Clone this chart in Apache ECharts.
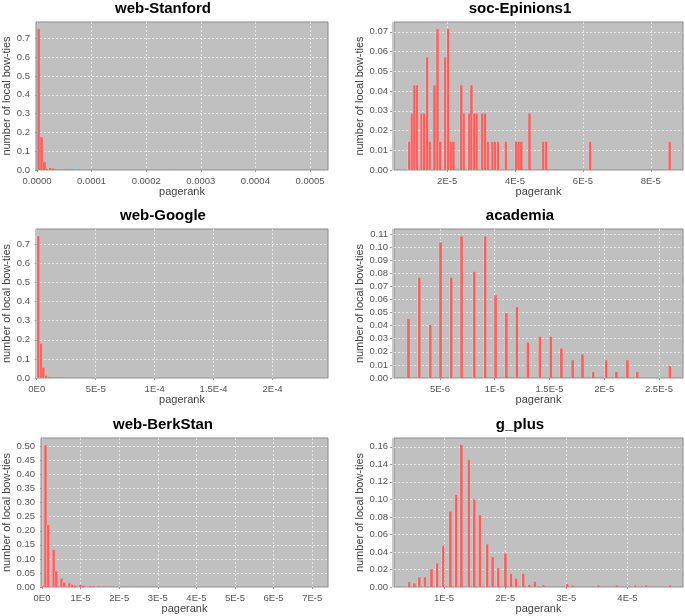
<!DOCTYPE html>
<html>
<head>
<meta charset="utf-8">
<script src="https://cdn.jsdelivr.net/npm/echarts@6/dist/echarts.min.js"></script>
<style>
  html, body { margin: 0; padding: 0; background: #fff; }
  #chart { width: 685px; height: 616px; }
</style>
</head>
<body>
<div id="chart"></div>
<script>
// histogram data: bin centre (pagerank) and share of local bow-ties

// web-Stanford
const stanfordX = [2.65e-6, 7.95e-6, 13.25e-6, 18.55e-6, 23.85e-6, 29.15e-6, 34.45e-6, 39.75e-6, 45.05e-6,
  50.35e-6, 55.65e-6, 60.95e-6, 66.25e-6, 71.55e-6, 76.85e-6, 177e-6, 241e-6, 507e-6]
const stanfordY = [0.750, 0.175, 0.042, 0.006, 0.011, 0.008, 0.003, 0.002, 0.002,
  0.004, 0.004, 0.004, 0.003, 0.002, 0.002, 0.001, 0.001, 0.001]
const stanfordBin = 5.3e-6
const stanfordXTicks = ['0.0000', '0.0001', '0.0002', '0.0003', '0.0004', '0.0005']
const stanfordYTicks = ['0.0', '0.1', '0.2', '0.3', '0.4', '0.5', '0.6', '0.7']

// soc-Epinions1
const epinionsX = [8.7e-6, 9.5e-6, 10.3e-6, 11.0e-6, 12.4e-6, 13.1e-6, 14.0e-6, 14.8e-6, 16.2e-6, 17.1e-6,
  17.9e-6, 19.4e-6, 20.2e-6, 21.0e-6, 21.8e-6, 24.1e-6, 24.8e-6, 26.4e-6, 27.1e-6, 27.8e-6,
  28.6e-6, 30.3e-6, 31.1e-6, 31.9e-6, 33.3e-6, 34.1e-6, 34.9e-6, 37.2e-6, 40.2e-6, 41.0e-6,
  41.8e-6, 44.2e-6, 48.3e-6, 49.1e-6, 62.0e-6, 85.5e-6]
const epinionsY = [0.0143, 0.0286, 0.0429, 0.0429, 0.0286, 0.0286, 0.0571, 0.0143, 0.0429, 0.0714,
  0.0143, 0.0571, 0.0714, 0.0143, 0.0143, 0.0429, 0.0286, 0.0286, 0.0429, 0.0286,
  0.0286, 0.0286, 0.0286, 0.0143, 0.0143, 0.0143, 0.0143, 0.0143, 0.0143, 0.0143,
  0.0143, 0.0286, 0.0143, 0.0143, 0.0143, 0.0143]
const epinionsBin = 0.78e-6
const epinionsXTicks = ['2E-5', '4E-5', '6E-5', '8E-5']
const epinionsYTicks = ['0.00', '0.01', '0.02', '0.03', '0.04', '0.05', '0.06', '0.07']

// web-Google
const googleX = [1.1e-6, 3.3e-6, 5.5e-6, 7.7e-6, 9.9e-6, 12.1e-6, 14.3e-6, 16.5e-6, 18.7e-6, 20.9e-6, 25.3e-6]
const googleY = [0.742, 0.180, 0.054, 0.012, 0.006, 0.003, 0.002, 0.0015, 0.001, 0.001, 0.0008]
const googleBin = 2.2e-6
const googleXTicks = ['0E0', '5E-5', '1E-4', '1.5E-4', '2E-4']
const googleYTicks = ['0.0', '0.1', '0.2', '0.3', '0.4', '0.5', '0.6', '0.7']

// academia
const academiaX = [2.1e-6, 3.08e-6, 4.09e-6, 5.03e-6, 6.0e-6, 6.95e-6, 8.1e-6, 9.1e-6, 10.06e-6, 11.04e-6,
  12.0e-6, 13.0e-6, 14.1e-6, 15.1e-6, 16.07e-6, 17.1e-6, 18.0e-6, 18.96e-6, 20.15e-6, 21.1e-6,
  22.1e-6, 23.0e-6, 25.97e-6]
const academiaY = [0.045, 0.0766, 0.0405, 0.1036, 0.0766, 0.1081, 0.0811, 0.1081, 0.0631, 0.0495,
  0.0541, 0.027, 0.0315, 0.0315, 0.0225, 0.0135, 0.018, 0.0045, 0.0135, 0.0045,
  0.0135, 0.0045, 0.009]
const academiaBin = 0.26e-6
const academiaXTicks = ['5E-6', '1E-5', '1.5E-5', '2E-5', '2.5E-5']
const academiaYTicks = ['0.00', '0.01', '0.02', '0.03', '0.04', '0.05', '0.06', '0.07', '0.08', '0.09', '0.10', '0.11']

// web-BerkStan
const berkX = [0.15e-6, 0.85e-6, 1.55e-6, 2.95e-6, 3.65e-6, 5.0e-6, 5.7e-6, 7.05e-6, 7.75e-6, 8.45e-6,
  9.9e-6, 10.6e-6, 12.4e-6, 13.1e-6, 14.5e-6, 16.0e-6, 17.5e-6, 22.0e-6, 25.0e-6, 27.6e-6]
const berkY = [0.003, 0.504, 0.220, 0.132, 0.056, 0.030, 0.0155, 0.013, 0.008, 0.005,
  0.007, 0.005, 0.0035, 0.003, 0.002, 0.0015, 0.001, 0.001, 0.001, 0.001]
const berkBin = 0.7e-6
const berkXTicks = ['0E0', '1E-5', '2E-5', '3E-5', '4E-5', '5E-5', '6E-5', '7E-5']
const berkYTicks = ['0.00', '0.05', '0.10', '0.15', '0.20', '0.25', '0.30', '0.35', '0.40', '0.45', '0.50']

// g_plus
const gplusX = [4.2e-6, 5.1e-6, 5.9e-6, 6.8e-6, 7.9e-6, 8.8e-6, 9.8e-6, 11.0e-6, 11.9e-6, 12.8e-6,
  14.0e-6, 14.9e-6, 15.8e-6, 17.0e-6, 17.9e-6, 18.8e-6, 20.0e-6, 20.9e-6, 21.7e-6, 22.9e-6,
  23.9e-6, 24.8e-6, 26.2e-6, 30.1e-6, 31.0e-6, 35.2e-6, 38.2e-6, 41.2e-6, 43.0e-6, 46.9e-6]
const gplusY = [0.0055, 0.0042, 0.011, 0.011, 0.0203, 0.027, 0.047, 0.086, 0.105, 0.162,
  0.145, 0.100, 0.082, 0.0487, 0.034, 0.0218, 0.038, 0.015, 0.0096, 0.015,
  0.0023, 0.006, 0.002, 0.0035, 0.0018, 0.0018, 0.0018, 0.0018, 0.0018, 0.0018]
const gplusBin = 0.45e-6
const gplusXTicks = ['1E-5', '2E-5', '3E-5', '4E-5']
const gplusYTicks = ['0.00', '0.02', '0.04', '0.06', '0.08', '0.10', '0.12', '0.14', '0.16']

const FONT = '"Liberation Sans", Arial, sans-serif'
// bars: red with a light strip on the left edge
const BAR_FILL = new echarts.graphic.LinearGradient(0, 0, 1, 0, [
  { offset: 0, color: '#ffc4c4' },
  { offset: 0.25, color: '#ff6464' },
  { offset: 1, color: '#ff5555' },
])

// layout of each panel (plot rectangle in px, axis ranges, gaps)
const panels = [
  { title: 'web-Stanford', tx: 163, ty: 1, grid: [33, 22, 295, 148], xr: [-1.8e-6, 5.33e-4], ymax: 0.7875,
    xs: stanfordX, ys: stanfordY, bin: stanfordBin, xt: stanfordXTicks, yt: stanfordYTicks, yGap: 22 },
  { title: 'soc-Epinions1', tx: 520, ty: 1, grid: [394, 22, 289, 148], xr: [4.34e-6, 8.95e-5], ymax: 0.075,
    xs: epinionsX, ys: epinionsY, bin: epinionsBin, xt: epinionsXTicks, yt: epinionsYTicks, yGap: 25 },
  { title: 'web-Google', tx: 163, ty: 208, grid: [33, 229, 295, 149], xr: [-0.6e-6, 2.47e-4], ymax: 0.78,
    xs: googleX, ys: googleY, bin: googleBin, xt: googleXTicks, yt: googleYTicks, yGap: 22 },
  { title: 'academia', tx: 520, ty: 208, grid: [394, 229, 289, 149], xr: [0.8e-6, 2.72e-5], ymax: 0.1138,
    xs: academiaX, ys: academiaY, bin: academiaBin, xt: academiaXTicks, yt: academiaYTicks, yGap: 25 },
  { title: 'web-BerkStan', tx: 163, ty: 417, grid: [38, 438, 290, 149], xr: [-0.26e-6, 7.41e-5], ymax: 0.53,
    xs: berkX, ys: berkY, bin: berkBin, xt: berkXTicks, yt: berkYTicks, yGap: 27 },
  { title: 'g_plus', tx: 520, ty: 417, grid: [394, 438, 289, 149], xr: [1.8e-6, 4.91e-5], ymax: 0.170,
    xs: gplusX, ys: gplusY, bin: gplusBin, xt: gplusXTicks, yt: gplusYTicks, yGap: 25 },
]

// label for a tick value: pick the listed label whose number is nearest
function labelFor(list) {
  return (v) => {
    let best = list[0]
    for (const s of list) {
      if (Math.abs(Number(s) - v) < Math.abs(Number(best) - v)) best = s
    }
    return best
  }
}

function renderBar(params, api) {
  const x = api.value(0), y = api.value(1), w = api.value(2)
  const p0 = api.coord([x - w / 2, 0])
  const p1 = api.coord([x + w / 2, y])
  return {
    type: 'rect',
    shape: { x: p0[0], y: p1[1], width: Math.max(p1[0] - p0[0], 1.5), height: p0[1] - p1[1] },
    style: { fill: BAR_FILL },
  }
}

const gridLine = { show: true, lineStyle: { color: 'rgba(255,255,255,0.85)', type: [2, 2], width: 0.7 } }

const option = {
  backgroundColor: '#fff',
  animation: false,
  title: [], grid: [], xAxis: [], yAxis: [], series: [],
}

panels.forEach((p, i) => {
  const xVals = p.xt.map(Number)
  const yVals = p.yt.map(Number)
  option.title.push({
    text: p.title, left: p.tx, top: p.ty, textAlign: 'center', padding: 0,
    textStyle: { fontFamily: FONT, fontWeight: 'bold', fontSize: 15, color: '#000' },
  })
  option.grid.push({
    left: p.grid[0], top: p.grid[1], width: p.grid[2], height: p.grid[3],
    show: true, backgroundColor: '#c0c0c0', borderColor: '#8a8a8a', borderWidth: 1,
  })
  option.xAxis.push({
    type: 'value', gridIndex: i, min: p.xr[0], max: p.xr[1], offset: 2,
    name: 'pagerank', nameLocation: 'middle', nameGap: 14,
    nameTextStyle: { fontFamily: FONT, fontSize: 11, color: '#444' },
    axisLine: { show: true, lineStyle: { color: '#c8c8c8' } },
    axisTick: { show: true, length: 2, customValues: xVals, lineStyle: { color: '#999' } },
    axisLabel: { customValues: xVals, margin: 4, formatter: labelFor(p.xt),
      fontFamily: FONT, fontSize: 9.5, color: '#555' },
    splitLine: Object.assign({ customValues: xVals }, gridLine),
  })
  option.yAxis.push({
    type: 'value', gridIndex: i, min: 0, max: p.ymax, offset: 2,
    name: 'number of local bow-ties', nameLocation: 'middle', nameGap: p.yGap,
    nameTextStyle: { fontFamily: FONT, fontSize: 11, color: '#444' },
    axisLine: { show: true, lineStyle: { color: '#c8c8c8' } },
    axisTick: { show: true, length: 2, customValues: yVals, lineStyle: { color: '#999' } },
    axisLabel: { customValues: yVals, margin: 4, formatter: labelFor(p.yt),
      fontFamily: FONT, fontSize: 9.5, color: '#555' },
    splitLine: Object.assign({ customValues: yVals }, gridLine),
  })
  option.series.push({
    type: 'custom', xAxisIndex: i, yAxisIndex: i, clip: true,
    renderItem: renderBar,
    encode: { x: 0, y: 1 },
    data: p.xs.map((x, k) => [x, p.ys[k], p.bin]),
  })
})

const chart = echarts.init(document.getElementById('chart'))
chart.setOption(option)
</script>
</body>
</html>
